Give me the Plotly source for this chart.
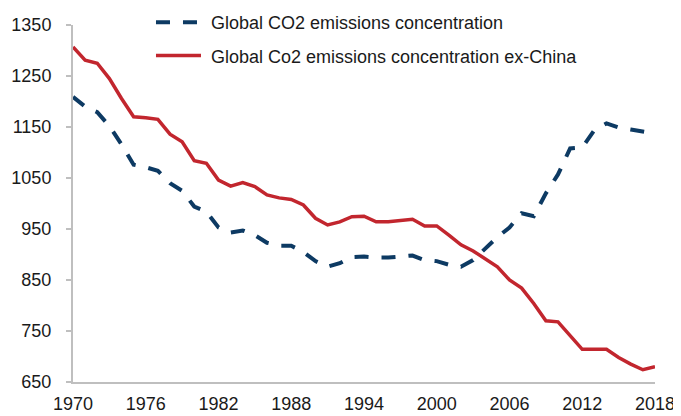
import plotly.graph_objects as go

years = list(range(1970, 2019))

global_co2 = [1209, 1190, 1179, 1152, 1116, 1076, 1071, 1064, 1040, 1025,
              994, 984, 953, 943, 947, 938, 923, 917, 917, 905,
              887, 876, 883, 895, 896, 894, 894, 896, 898, 889,
              887, 880, 876, 889, 912, 934, 953, 981, 975, 1020,
              1057, 1108, 1110, 1144, 1157, 1149, 1145, 1140, 1137]

global_ex_china = [1307, 1281, 1275, 1245, 1206, 1170, 1168, 1165, 1136, 1121,
                   1084, 1079, 1046, 1034, 1041, 1033, 1017, 1011, 1008, 997,
                   971, 958, 964, 974, 975, 964, 964, 966, 969, 956,
                   956, 938, 919, 907, 892, 876, 850, 834, 804, 770,
                   768, 742, 714, 714, 714, 698, 685, 674, 680]

x_ticks = [1970, 1976, 1982, 1988, 1994, 2000, 2006, 2012, 2018]
y_ticks = [650, 750, 850, 950, 1050, 1150, 1250, 1350]

series_names = ["Global CO2 emissions concentration",
                "Global Co2 emissions concentration ex-China"]

BLUE = "#0D3A63"
RED = "#C2262E"
AXIS = "#BFBFBF"
TEXT = "#1A1A1A"
FONT = "Liberation Sans, Arial, sans-serif"

fig = go.Figure()
fig.add_trace(go.Scatter(
    x=years, y=global_co2, name="\u00a0" + series_names[0], mode="lines",
    line=dict(color=BLUE, width=4, dash="14px,13px"),
    legendgroup="a",
))
fig.add_trace(go.Scatter(
    x=years, y=global_ex_china, name="\u00a0" + series_names[1], mode="lines",
    line=dict(color=RED, width=3.5),
    legendgroup="b",
))

# page body has an 8px default margin, so the figure is 8px smaller than the window
fig.update_layout(
    width=673, height=408,
    margin=dict(l=65, r=26, t=17, b=34, autoexpand=False),
    paper_bgcolor="white", plot_bgcolor="white",
    font=dict(family=FONT, size=18, color=TEXT),
    showlegend=True,
    legend=dict(
        x=0.134, y=1.0588, xanchor="left", yanchor="top",
        bgcolor="rgba(0,0,0,0)",
        font=dict(family=FONT, size=18, color=TEXT),
        itemwidth=45,
        traceorder="grouped",
        tracegroupgap=7,
    ),
    xaxis=dict(
        range=[1970, 2018], tickvals=x_ticks, ticktext=[str(v) for v in x_ticks],
        showgrid=False, zeroline=False,
        showline=True, linecolor=AXIS, linewidth=2,
        ticks="", ticklabelstandoff=4,
        tickfont=dict(family=FONT, size=18, color=TEXT),
        automargin=False,
    ),
    yaxis=dict(
        range=[650, 1350], tickvals=y_ticks, ticktext=[str(v) for v in y_ticks],
        showgrid=False, zeroline=False,
        showline=True, linecolor=AXIS, linewidth=2,
        ticks="outside", ticklen=5, tickcolor=AXIS, tickwidth=1.5,
        ticklabelstandoff=11,
        tickfont=dict(family=FONT, size=18, color=TEXT),
        automargin=False,
    ),
)

fig.write_html("out.html")
